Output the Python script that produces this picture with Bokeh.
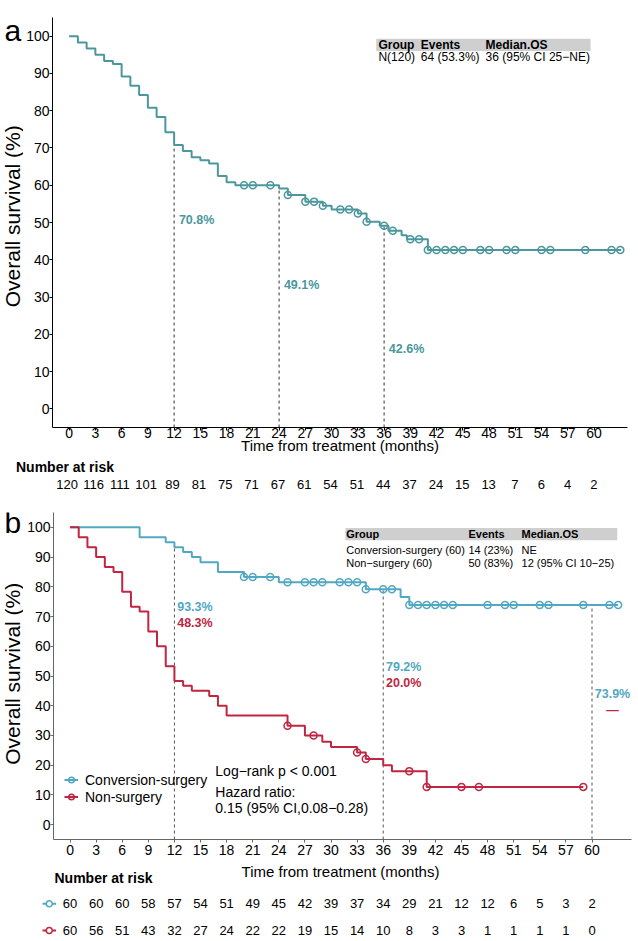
import math
from bokeh.plotting import figure
from bokeh.models import ColumnDataSource, FixedTicker, Legend, LegendItem, Range1d
from bokeh.layouts import column, row
from bokeh.embed import file_html
from bokeh.resources import INLINE
from bokeh.core.properties import value

FONT = "Liberation Sans"
A_COL = "#4B979D"
B_COL = "#52A8C2"
R_COL = "#BE2641"

# ---------------- data: panel a (all patients) ----------------
a_t = [0, 1, 2, 3, 4, 5, 6, 7, 8, 9, 10, 11, 12, 13, 14, 15, 16, 17, 18, 19,
       24, 25, 27, 29, 30, 33, 34, 35.5, 36.5, 38, 38.6, 41, 63.1]
a_s = [100, 98.3, 96.7, 95.0, 93.3, 92.5, 89.2, 86.7, 84.2, 80.8, 78.3, 74.2,
       70.8, 69.2, 67.5, 66.7, 65.8, 62.5, 60.8, 60.0, 59.1, 57.4, 55.6, 54.5,
       53.5, 52.4, 50.2, 49.1, 47.8, 46.6, 45.5, 42.6, 42.6]
a_cens_t = [20, 21, 23, 25, 27, 28, 29, 31, 32, 33, 34, 36, 37, 39, 40,
            41, 42, 43, 44, 45, 47, 48, 50, 51, 54, 55, 59, 62, 63]
a_cens_s = [60.0, 60.0, 60.0, 57.4, 55.6, 55.6, 54.5, 53.5, 53.5, 52.4, 50.2,
            49.1, 47.8, 45.5, 45.5] + [42.6] * 14
a_mark_t = [12, 24, 36]
a_mark_top = [70.8, 60.0, 49.1]
a_mark_lab = ["70.8%", "49.1%", "42.6%"]
a_lab_y = [50.7, 33.2, 16.1]

# ---------------- data: panel b ----------------
cs_t = [0, 8, 11, 12, 13, 14, 15, 17, 20, 24, 34, 38, 39, 63.0]
cs_s = [100, 96.7, 95.0, 93.3, 91.7, 90.0, 88.3, 85.0, 83.3, 81.5, 79.2, 76.6, 73.9, 73.9]
cs_cens_t = [20, 21, 23, 25, 27, 28, 29, 31, 32, 33, 34, 36, 37,
             39, 40, 41, 42, 43, 44, 48, 50, 51, 54, 55, 59, 62, 63]
cs_cens_s = [83.3] * 3 + [81.5] * 7 + [79.2] * 3 + [73.9] * 14

ns_t = [0, 1, 2, 3, 4, 5, 6, 7, 8, 9, 10, 11, 12, 13, 14, 16, 17, 18, 25, 27,
        29, 30, 33, 34, 36, 37, 41, 59]
ns_s = [100, 96.7, 93.3, 90.0, 86.7, 85.0, 78.3, 73.3, 71.7, 65.0, 60.0, 53.3,
        48.3, 46.7, 45.0, 43.3, 40.0, 36.7, 33.3, 30.0, 27.9, 26.1, 24.3, 22.1,
        20.0, 18.0, 12.7, 12.7]
ns_cens_t = [25, 28, 33, 34, 39, 41, 45, 47, 59]
ns_cens_s = [33.3, 30.0, 24.3, 22.1, 18.0, 12.7, 12.7, 12.7, 12.7]

b_mark_t = [12, 36, 60]
b_mark_top = [93.3, 79.2, 73.9]
b_lab_cs = ["93.3%", "79.2%", "73.9%"]
b_lab_cs_y = [73.1, 52.9, 43.8]
b_lab_ns = ["48.3%", "20.0%", "\u2014"]
b_lab_ns_y = [67.9, 47.7, 38.5]

# ---------------- risk tables ----------------
risk_t = list(range(0, 61, 3))
a_risk = [120, 116, 111, 101, 89, 81, 75, 71, 67, 61, 54, 51, 44, 37, 24, 15, 13, 7, 6, 4, 2]
cs_risk = [60, 60, 60, 58, 57, 54, 51, 49, 45, 42, 39, 37, 34, 29, 21, 12, 12, 6, 5, 3, 2]
ns_risk = [60, 56, 51, 43, 32, 27, 24, 22, 22, 19, 15, 14, 10, 8, 3, 3, 1, 1, 1, 1, 0]

y_ticks = list(range(0, 101, 10))

# ---------------- tables text ----------------
a_head = ["Group", "Events", "Median.OS"]
a_row = ["N(120)", "64 (53.3%)", "36 (95% CI 25\u2212NE)"]
b_head = ["Group", "Events", "Median.OS"]
b_row1 = ["Conversion-surgery (60)", "14 (23%)", "NE"]
b_row2 = ["Non\u2212surgery (60)", "50 (83%)", "12 (95% CI 10\u221225)"]
b_logrank = ["Log\u2212rank p < 0.001", "Hazard ratio:", "0.15 (95% CI,0.08\u22120.28)"]

# ---------------- geometry (page pixels) ----------------
W = 638
LW = 23                      # narrow left strip (panel letter + y title)
A_TOP, A_BOT = 0, 458        # panel a figure
A_FL, A_FR, A_FT, A_FB = 50, 627, 17, 427
RA_TOP, RA_BOT = 458, 495    # risk table a
B_TOP, B_BOT = 495, 861      # panel b figure
B_FL, B_FR, B_FT, B_FB = 53, 631, 512, 839
RB_TOP, RB_BOT = 861, 941    # risk table b
A_X = (-1.9, 63.82)
B_X = (-1.9, 64.54)
Y_R = (-5, 105)

a_ppm = (A_FR - A_FL) / (A_X[1] - A_X[0])
b_ppm = (B_FR - B_FL) / (B_X[1] - B_X[0])


def a_px2m(px):
    return A_X[0] + (px - A_FL) / a_ppm


def b_px2m(px):
    return B_X[0] + (px - B_FL) / b_ppm


def txt(p, x, y, text, size, color="black", bold=False, align="left",
        baseline="middle", angle=0.0, **kw):
    p.text(x=x, y=y, text=text, text_font=value(FONT), text_font_size=size,
           text_font_style="bold" if bold else "normal", text_color=color,
           text_align=align, text_baseline=baseline, angle=angle, **kw)


def style_axes(p, axis_color, x_standoff):
    for ax in (p.xaxis[0], p.yaxis[0]):
        ax.axis_line_color = axis_color
        ax.axis_line_width = 1
        ax.major_tick_line_color = axis_color
        ax.major_tick_out = 3
        ax.major_tick_in = 0
        ax.minor_tick_line_color = None
        ax.major_label_text_font = FONT
        ax.major_label_text_font_size = "14px"
        ax.major_label_text_color = "black"
    p.yaxis[0].major_label_standoff = 0
    p.xaxis[0].major_label_standoff = x_standoff
    p.xaxis[0].ticker = FixedTicker(ticks=risk_t)
    p.yaxis[0].ticker = FixedTicker(ticks=y_ticks)
    p.xgrid.visible = False
    p.ygrid.visible = False
    p.outline_line_color = None
    p.background_fill_color = "white"
    p.border_fill_color = "white"


def blank(width, height, xr, yr):
    p = figure(width=width, height=height, x_range=xr, y_range=yr,
               output_backend="svg", toolbar_location=None,
               x_axis_type=None, y_axis_type=None,
               min_border_left=0, min_border_right=0, min_border_top=0, min_border_bottom=0)
    p.xgrid.visible = False
    p.ygrid.visible = False
    p.outline_line_color = None
    p.background_fill_color = "white"
    p.border_fill_color = "white"
    return p


# ================= Panel a =================
pa = figure(width=W - LW, height=A_BOT - A_TOP, x_range=A_X, y_range=Y_R,
            output_backend="svg", toolbar_location=None,
            min_border_left=A_FL - LW, min_border_right=W - A_FR,
            min_border_top=A_FT - A_TOP, min_border_bottom=A_BOT - A_FB)
style_axes(pa, "black", -3)
pa.xaxis[0].axis_label = "Time from treatment (months)"
pa.xaxis[0].axis_label_text_font = FONT
pa.xaxis[0].axis_label_text_font_size = "15px"
pa.xaxis[0].axis_label_text_font_style = "normal"
pa.xaxis[0].axis_label_text_color = "black"
pa.xaxis[0].axis_label_standoff = -4

pa.segment(x0=a_mark_t, y0=[Y_R[0]] * 3, x1=a_mark_t, y1=a_mark_top,
           line_color="#333333", line_width=1, line_dash="3 3")
pa.step(x=a_t, y=a_s, mode="after", line_color=A_COL, line_width=2)
pa.scatter(x=a_cens_t, y=a_cens_s, marker="circle", size=7, fill_color=None,
           line_color=A_COL, line_width=1.5)
txt(pa, a_mark_t, a_lab_y, a_mark_lab, "12.5px", color=A_COL, bold=True,
    align="center", x_offset=22.5)

# summary table a
pa.quad(left=[35.1], right=[59.6], bottom=[96.0], top=[99.3], fill_color="#CFCFCF", line_color=None)
col_x_a = [35.35, 40.2, 47.6]
txt(pa, col_x_a, [97.6] * 3, a_head, "12px", bold=True)
txt(pa, col_x_a, [94.4] * 3, a_row, "12px")

# left strip a
la = blank(LW, A_BOT - A_TOP, Range1d(0, LW), Range1d(A_BOT, A_TOP))
txt(la, [4], [14.5], ["a"], "30px")
txt(la, [11.5], [(A_FT + A_FB) / 2], ["Overall survival (%)"], "21px",
    align="center", angle=math.pi / 2)

# risk table a
ra = blank(W, RA_BOT - RA_TOP, Range1d(a_px2m(0), a_px2m(W)), Range1d(RA_BOT, RA_TOP))
txt(ra, [a_px2m(15.5)], [466.7], ["Number at risk"], "14px", bold=True)
ra.text(x=risk_t, y=[484.3] * len(risk_t), text=[str(v) for v in a_risk],
        text_font=value(FONT), text_font_size="13px", text_color="black",
        text_align="center", text_baseline="middle")

# ================= Panel b =================
pb = figure(width=W - LW, height=B_BOT - B_TOP, x_range=B_X, y_range=Y_R,
            output_backend="svg", toolbar_location=None,
            min_border_left=B_FL - LW, min_border_right=W - B_FR,
            min_border_top=B_FT - B_TOP, min_border_bottom=B_BOT - B_FB)
style_axes(pb, "#666666", 2)

pb.segment(x0=b_mark_t, y0=[Y_R[0]] * 3, x1=b_mark_t, y1=b_mark_top,
           line_color="#555555", line_width=1, line_dash="3 3")
l_cs = pb.step(x=cs_t, y=cs_s, mode="after", line_color=B_COL, line_width=2)
c_cs = pb.scatter(x=cs_cens_t, y=cs_cens_s, marker="circle", size=7, fill_color=None,
                  line_color=B_COL, line_width=1.5)
l_ns = pb.step(x=ns_t, y=ns_s, mode="after", line_color=R_COL, line_width=2)
c_ns = pb.scatter(x=ns_cens_t, y=ns_cens_s, marker="circle", size=7, fill_color=None,
                  line_color=R_COL, line_width=1.5)
txt(pb, b_mark_t, b_lab_cs_y, b_lab_cs, "12.5px", color=B_COL, bold=True,
    align="center", x_offset=20.5)
txt(pb, b_mark_t, b_lab_ns_y, b_lab_ns, "12.5px", color=R_COL, bold=True,
    align="center", x_offset=20.5)

# summary table b
pb.quad(left=[31.65], right=[62.9], bottom=[95.7], top=[99.8], fill_color="#CFCFCF", line_color=None)
col_x_b = [31.75, 45.8, 51.9]
txt(pb, col_x_b, [97.75] * 3, b_head, "11px", bold=True)
txt(pb, col_x_b, [92.4] * 3, b_row1, "11px")
txt(pb, col_x_b, [88.1] * 3, b_row2, "11px")

# log-rank text
txt(pb, [16.7] * 3, [18.0, 11.0, 5.7], b_logrank, "14px")

# legend
leg = Legend(items=[LegendItem(label="Conversion-surgery", renderers=[l_cs, c_cs]),
                    LegendItem(label="Non-surgery", renderers=[l_ns, c_ns])],
             location=(11, 33.8), orientation="vertical",
             glyph_width=14, glyph_height=17, label_height=17, spacing=0,
             label_standoff=7, padding=0, margin=0,
             label_text_font=FONT, label_text_font_size="14px", label_text_color="black",
             background_fill_alpha=0, border_line_color=None)
pb.add_layout(leg)

# left strip b
lb = blank(LW, B_BOT - B_TOP, Range1d(0, LW), Range1d(B_BOT, B_TOP))
txt(lb, [4], [506], ["b"], "30px")
txt(lb, [11.5], [(B_FT + B_FB) / 2], ["Overall survival (%)"], "21px",
    align="center", angle=math.pi / 2)

# risk table b
rb = blank(W, RB_BOT - RB_TOP, Range1d(b_px2m(0), b_px2m(W)), Range1d(RB_BOT, RB_TOP))
txt(rb, [b_px2m((B_FL + 627) / 2)], [870.5], ["Time from treatment (months)"], "15px", align="center")
txt(rb, [b_px2m(54)], [877], ["Number at risk"], "14px", bold=True)
row_y = [903.3, 930.0]
mk_x0, mk_x1, mk_xc = b_px2m(42), b_px2m(55.5), b_px2m(48.8)
rb.segment(x0=[mk_x0, mk_x0], y0=row_y, x1=[mk_x1, mk_x1], y1=row_y,
           line_color=[B_COL, R_COL], line_width=2)
rb.scatter(x=[mk_xc, mk_xc], y=row_y, marker="circle", size=6, fill_color="white",
           line_color=[B_COL, R_COL], line_width=1.5)
rb.text(x=risk_t, y=[row_y[0]] * len(risk_t), text=[str(v) for v in cs_risk],
        text_font=value(FONT), text_font_size="13px", text_color="black",
        text_align="center", text_baseline="middle")
rb.text(x=risk_t, y=[row_y[1]] * len(risk_t), text=[str(v) for v in ns_risk],
        text_font=value(FONT), text_font_size="13px", text_color="black",
        text_align="center", text_baseline="middle")

layout = column(row(la, pa, spacing=0), ra, row(lb, pb, spacing=0), rb, spacing=0)
open("out.html", "w").write(file_html(layout, INLINE))
